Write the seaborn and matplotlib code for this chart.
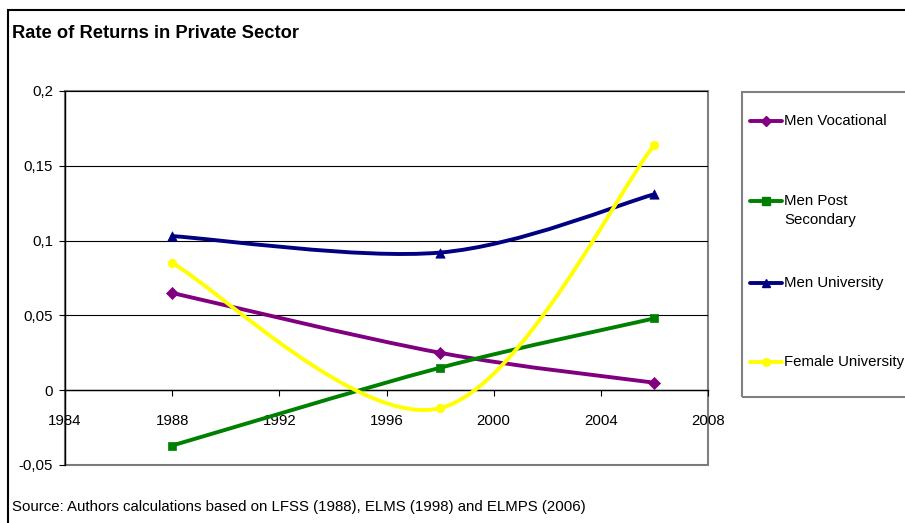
import numpy as np
import pandas as pd
import matplotlib
matplotlib.use("Agg")
import matplotlib.pyplot as plt
from matplotlib.path import Path
from matplotlib.patches import PathPatch, Rectangle
from matplotlib.lines import Line2D
from matplotlib import font_manager
import seaborn as sns

# ---------------- data ----------------
years = [1988, 1998, 2006]
men_vocational = [0.065, 0.025, 0.005]
men_post_secondary = [-0.037, 0.015, 0.048]
men_university = [0.103, 0.092, 0.131]
female_university = [0.085, -0.012, 0.164]

series_names = ["Men Vocational", "Men Post Secondary", "Men University", "Female University"]
legend_labels = ["Men Vocational", "Men Post\nSecondary", "Men University", "Female University"]
series_values = [men_vocational, men_post_secondary, men_university, female_university]
series_colors = ["#800080", "#008000", "#000080", "#FFFF00"]
series_markers = ["D", "s", "^", "o"]

x_ticks = [1984, 1988, 1992, 1996, 2000, 2004, 2008]
y_ticks = [-0.05, 0, 0.05, 0.1, 0.15, 0.2]
title_text = "Rate of Returns in Private Sector"
source_text = "Source: Authors calculations based on LFSS (1988), ELMS (1998) and ELMPS (2006)"

df = pd.DataFrame({
    "year": years * len(series_names),
    "value": [v for vals in series_values for v in vals],
    "series": [n for n in series_names for _ in years],
})

# ---------------- style ----------------
sns.set_style("white")
available = {f.name for f in font_manager.fontManager.ttflist}
FONT = "Liberation Sans Narrow" if "Liberation Sans Narrow" in available else "Liberation Sans"
plt.rcParams["font.family"] = [FONT, "DejaVu Sans"]
NARROW = FONT == "Liberation Sans Narrow"
TICK_FS = 12 if NARROW else 10.8
LEG_FS = 12 if NARROW else 10.8
SRC_FS = 12.5 if NARROW else 10.8
TITLE_FS = 14.5 if NARROW else 13.2

W, H = 905, 523
fig = plt.figure(figsize=(W / 100, H / 100), dpi=100)
fig.patch.set_facecolor("white")

def fx(px):
    return px / W

def fy(py):
    return 1 - py / H

# outer chart border (top and left visible)
fig.add_artist(Rectangle((fx(8), fy(560)), fx(1000), fy(10) - fy(560), transform=fig.transFigure,
                         fill=False, edgecolor="black", lw=1.5))

ax = fig.add_axes([fx(65), fy(465), fx(708) - fx(65), fy(91) - fy(465)])
ax.set_facecolor("white")

# smoothed lines (Bezier through the data points) + markers
def smooth_path(xs, ys):
    pts = np.column_stack([xs, ys]).astype(float)
    n = len(pts)
    verts = [pts[0]]
    codes = [Path.MOVETO]
    for i in range(n - 1):
        p_prev = pts[max(i - 1, 0)]
        p0 = pts[i]
        p1 = pts[i + 1]
        p_next = pts[min(i + 2, n - 1)]
        c1 = p0 + (p1 - p_prev) / 6.0
        c2 = p1 - (p_next - p0) / 6.0
        verts += [c1, c2, p1]
        codes += [Path.CURVE4] * 3
    return Path(verts, codes)

for i, (name, color, marker) in enumerate(zip(series_names, series_colors, series_markers)):
    sub = df[df["series"] == name]
    ax.add_patch(PathPatch(smooth_path(sub["year"].values, sub["value"].values),
                           facecolor="none", edgecolor=color, lw=2.8, zorder=3 + 2 * i,
                           capstyle="round", joinstyle="round"))
    sns.scatterplot(data=sub, x="year", y="value", color=color, marker=marker,
                    s=38 if marker != "^" else 45, edgecolor=color, linewidth=0.5,
                    ax=ax, legend=False, zorder=4 + 2 * i)

ax.set_xlim(1984, 2008)
ax.set_ylim(-0.05, 0.2)
ax.set_xticks(x_ticks)
ax.set_yticks(y_ticks)
ax.set_xticklabels([str(t) for t in x_ticks])
ax.set_yticklabels([f"{t:g}".replace(".", ",") for t in y_ticks])
ax.set_xlabel("")
ax.set_ylabel("")

ax.yaxis.grid(True, color="black", lw=0.8)
ax.xaxis.grid(False)
ax.set_axisbelow(True)

for s in ["top", "right"]:
    ax.spines[s].set_visible(False)
ax.spines["left"].set_color("black")
ax.spines["left"].set_linewidth(1.0)
ax.spines["bottom"].set_position(("data", 0))
ax.spines["bottom"].set_color("black")
ax.spines["bottom"].set_linewidth(1.0)
ax.spines["bottom"].set_zorder(2)

# gray plot-area border
ax.add_patch(Rectangle((0, 0), 1, 1, transform=ax.transAxes, fill=False,
                       edgecolor="#808080", lw=1.5, zorder=0.5, clip_on=False))

ax.tick_params(axis="x", direction="out", length=4, width=0.8, color="black",
               labelsize=TICK_FS, pad=13, labelcolor="black")
ax.tick_params(axis="y", direction="out", length=4, width=0.8, color="black",
               labelsize=TICK_FS, pad=4.5, labelcolor="black")
ax.tick_params(axis="both", which="both", bottom=True, left=True)

# title & source
fig.text(fx(12), fy(33), title_text, fontsize=TITLE_FS, fontweight="bold", ha="left", va="center",
         color="black")
fig.text(fx(12), fy(507), source_text, fontsize=SRC_FS, ha="left", va="center", color="black")

# legend
fig.add_artist(Rectangle((fx(742), fy(397)), fx(200), fy(92) - fy(397), transform=fig.transFigure,
                         fill=False, edgecolor="#808080", lw=1.5))
legend_y = [121, 201, 283, 362]
for label, color, marker, yy in zip(legend_labels, series_colors, series_markers, legend_y):
    fig.add_artist(Line2D([fx(750), fx(782)], [fy(yy), fy(yy)], transform=fig.transFigure,
                          color=color, lw=2.8, marker=None))
    fig.add_artist(Line2D([fx(766)], [fy(yy)], transform=fig.transFigure, color=color,
                          marker=marker, markersize=5.5, markeredgecolor=color))
    fig.text(fx(784), fy(yy - 7), label, fontsize=LEG_FS, ha="left", va="top", color="black",
             linespacing=1.45)

fig.savefig("out.png", dpi=100)
